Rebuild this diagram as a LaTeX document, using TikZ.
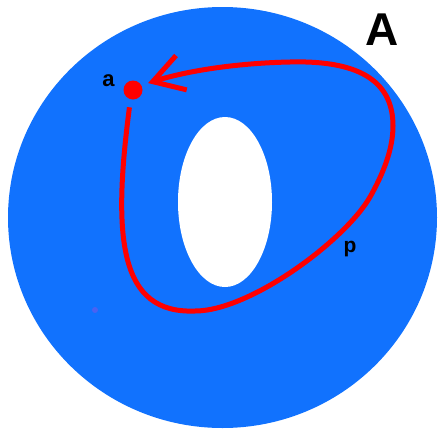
\documentclass[tikz,border=0pt]{standalone}
\usepackage{fontspec}
\setmainfont{Liberation Sans}
\usepackage{xcolor}
\usepackage{tikz}
\usetikzlibrary{arrows.meta}
\definecolor{spaceblue}{HTML}{1172FE}
\definecolor{pathred}{HTML}{FF0000}
\definecolor{specblue}{HTML}{4A62F2}

\begin{document}
\begin{tikzpicture}[x=1pt,y=-1pt,
    lbl/.style={inner sep=0pt,font=\bfseries\fontsize{#1}{#1}\selectfont},
    redloop/.style={draw=pathred,line width=5pt,
      -{Straight Barb[length=30pt,width=36pt]}}]
  \useasboundingbox (0,0) rectangle (439,429);
  % the space A with its hole
  \fill[spaceblue] (222.5,217.5) ellipse [x radius=214.5, y radius=210.5];
  \fill[white] (225,202) ellipse [x radius=47, y radius=85];
  \fill[specblue] (95,310) circle [radius=3];
  % base point and the loop p
  \node[circle,fill=pathred,inner sep=0pt,minimum size=19pt] (base) at (133,90) {};
  \draw[redloop,shorten <=8pt,shorten >=7pt] (base.255)
    .. controls (112,240) and (120,314) .. (195,311)
    .. controls (250,311) and (345,240.5) .. (370,197)
    .. controls (382.5,175) and (393,150) .. (393,126)
    .. controls (393,85) and (365,60) .. (290,62)
    .. controls (240,63) and (190,70) .. (base.30);
  \node[lbl=22] (basename) at (108.5,81) {a};
  \node[lbl=21] (loopname) at (350,249.5) {p};
  \node[lbl=46] (spacename) at (382,30) {A};
\end{tikzpicture}
\end{document}
